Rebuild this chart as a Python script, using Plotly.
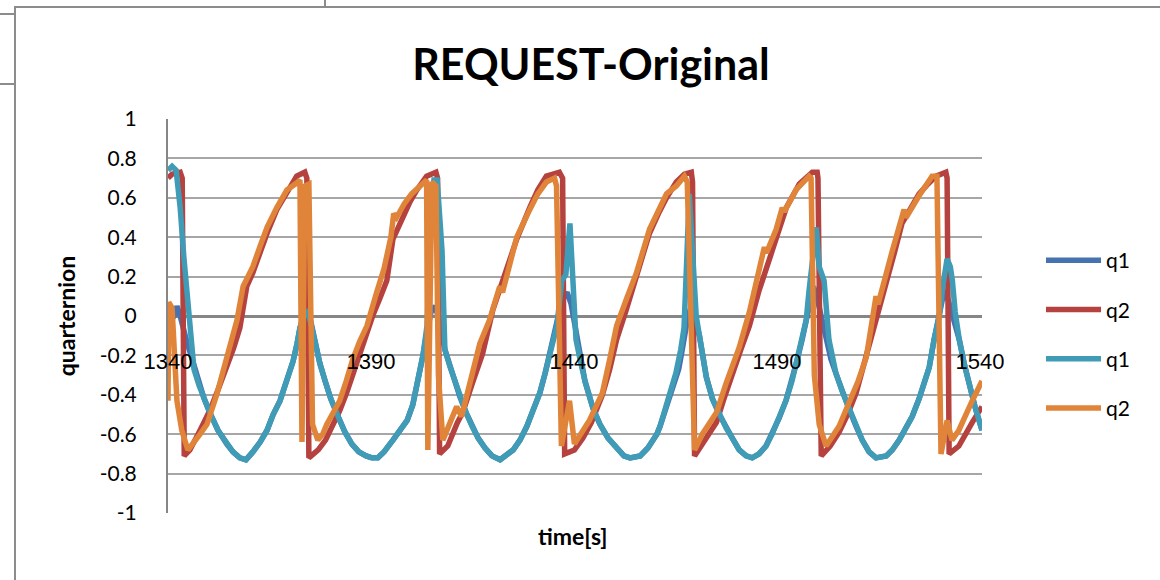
import plotly.graph_objects as go

# ---- data: time [s] and quaternion components ----
# q1 / q2 (original, drawn first) and q1 / q2 (second pair, drawn on top)
t_q1_ref = [1340.0, 1341.5, 1342.2, 1343.0, 1344.5, 1345.7, 1346.4, 1347.6, 1348.9, 1350.3, 1352.3,
            1354.5, 1356.0, 1357.7, 1359.2, 1360.9, 1362.7, 1364.4, 1365.9, 1367.6, 1369.3, 1370.8,
            1371.8, 1372.5, 1373.4, 1374.4, 1375.2, 1376.2, 1377.4, 1378.7, 1380.1, 1381.9, 1383.6,
            1385.3, 1387.0, 1388.8, 1390.2, 1391.7, 1393.2, 1395.4, 1397.1, 1398.9, 1400.3, 1401.6,
            1402.8, 1403.8, 1404.8, 1405.8, 1406.8, 1408.2, 1409.5, 1410.7, 1411.9, 1413.4, 1414.9,
            1416.4, 1418.1, 1419.8, 1421.8, 1423.2, 1425.0, 1426.7, 1428.4, 1429.9, 1431.6, 1432.9,
            1434.1, 1435.1, 1435.8, 1437.0, 1438.3, 1439.3, 1440.2, 1440.7, 1441.5, 1442.7, 1444.7,
            1446.4, 1448.4, 1450.6, 1452.3, 1453.8, 1456.3, 1458.2, 1460.4, 1461.2, 1463.6, 1465.1,
            1465.8, 1466.5, 1467.3, 1468.1, 1468.9, 1469.8, 1470.9, 1472.6, 1474.1, 1475.8, 1477.5,
            1479.0, 1480.7, 1482.4, 1483.9, 1485.6, 1487.3, 1488.8, 1490.5, 1492.2, 1493.7, 1494.9,
            1496.2, 1497.2, 1498.2, 1499.0, 1500.0, 1501.1, 1502.2, 1503.3, 1504.5, 1506.0, 1507.7,
            1509.5, 1511.0, 1512.7, 1514.4, 1516.9, 1518.4, 1520.1, 1521.8, 1523.3, 1525.0, 1526.5,
            1527.5, 1528.7, 1530.0, 1531.2, 1532.2, 1533.2, 1534.2, 1534.9, 1536.2, 1537.4, 1538.9,
            1540.5]
q1_ref = [-0.05, 0.00, 0.05, 0.00, -0.12, -0.20, -0.27, -0.35, -0.42, -0.49, -0.58,
          -0.65, -0.69, -0.72, -0.73, -0.69, -0.64, -0.58, -0.50, -0.43, -0.33, -0.23,
          -0.14, -0.06, 0.00, 0.03, -0.03, -0.14, -0.24, -0.33, -0.42, -0.51, -0.59,
          -0.65, -0.69, -0.71, -0.72, -0.72, -0.69, -0.63, -0.58, -0.53, -0.45, -0.33,
          -0.20, -0.08, 0.02, 0.05, -0.02, -0.17, -0.26, -0.33, -0.41, -0.49, -0.56,
          -0.62, -0.67, -0.71, -0.73, -0.71, -0.68, -0.63, -0.56, -0.48, -0.39, -0.29,
          -0.19, -0.11, -0.03, 0.08, 0.12, 0.06, -0.04, -0.12, -0.22, -0.33, -0.47,
          -0.55, -0.62, -0.67, -0.71, -0.72, -0.71, -0.67, -0.60, -0.56, -0.40, -0.30,
          -0.27, -0.19, -0.10, 0.00, 0.05, -0.03, -0.10, -0.31, -0.42, -0.50, -0.57,
          -0.62, -0.68, -0.71, -0.72, -0.70, -0.66, -0.60, -0.52, -0.43, -0.33, -0.23,
          -0.12, -0.02, 0.10, 0.15, 0.08, -0.03, -0.12, -0.22, -0.29, -0.38, -0.47,
          -0.56, -0.63, -0.69, -0.72, -0.71, -0.68, -0.63, -0.57, -0.51, -0.42, -0.33,
          -0.26, -0.12, 0.00, 0.13, 0.08, 0.00, -0.06, -0.12, -0.25, -0.36, -0.47,
          -0.58]

t_q2_ref = [1340.0, 1341.0, 1343.0, 1343.5, 1344.0, 1345.4, 1347.9, 1350.3, 1352.4, 1354.5, 1356.2,
            1357.7, 1359.4, 1360.9, 1362.6, 1364.4, 1366.8, 1368.4, 1370.0, 1371.7, 1373.7, 1374.2,
            1374.7, 1377.0, 1378.8, 1380.6, 1382.3, 1384.0, 1385.6, 1387.2, 1388.8, 1390.4, 1392.2,
            1393.9, 1395.4, 1397.8, 1399.6, 1401.3, 1403.7, 1406.0, 1406.4, 1406.9, 1408.9, 1411.3,
            1412.6, 1415.0, 1417.5, 1420.0, 1422.4, 1424.2, 1425.9, 1429.1, 1431.1, 1433.2, 1436.4,
            1437.2, 1437.7, 1440.1, 1442.2, 1444.3, 1447.0, 1448.8, 1450.5, 1453.0, 1455.4, 1458.6,
            1460.8, 1462.8, 1465.2, 1467.2, 1468.9, 1469.2, 1469.7, 1472.4, 1475.1, 1477.1, 1479.0,
            1481.1, 1483.2, 1485.6, 1488.8, 1490.6, 1492.3, 1495.5, 1498.7, 1499.9, 1500.1, 1500.9,
            1503.1, 1505.3, 1507.4, 1509.5, 1511.5, 1513.4, 1516.9, 1518.9, 1520.8, 1525.0, 1527.2,
            1529.2, 1531.6, 1531.9, 1532.4, 1534.8, 1538.1, 1540.5]
q2_ref = [0.70, 0.72, 0.73, 0.70, -0.71, -0.68, -0.58, -0.48, -0.37, -0.26, -0.16,
          -0.06, 0.15, 0.22, 0.32, 0.42, 0.54, 0.60, 0.66, 0.71, 0.73, 0.70,
          -0.72, -0.68, -0.63, -0.56, -0.48, -0.39, -0.29, -0.19, -0.10, 0.00, 0.09,
          0.18, 0.39, 0.50, 0.58, 0.64, 0.71, 0.73, 0.70, -0.70, -0.66, -0.54,
          -0.49, -0.34, -0.19, 0.03, 0.17, 0.28, 0.39, 0.55, 0.64, 0.71, 0.73,
          0.70, -0.70, -0.68, -0.62, -0.54, -0.40, -0.27, -0.12, 0.04, 0.20, 0.42,
          0.52, 0.60, 0.68, 0.72, 0.73, 0.68, -0.71, -0.63, -0.54, -0.41, -0.29,
          -0.17, -0.05, 0.13, 0.33, 0.45, 0.55, 0.67, 0.73, 0.73, 0.70, -0.71,
          -0.66, -0.59, -0.50, -0.39, -0.24, -0.09, 0.15, 0.32, 0.47, 0.62, 0.67,
          0.71, 0.73, 0.70, -0.70, -0.66, -0.54, -0.46]

t_q1 = [1340.0, 1341.0, 1342.0, 1343.0, 1343.9, 1344.9, 1345.7, 1346.4, 1347.6, 1348.9, 1350.3,
        1352.3, 1354.5, 1356.0, 1357.7, 1359.2, 1360.9, 1362.7, 1364.4, 1365.9, 1367.6, 1369.3,
        1370.8, 1371.8, 1372.5, 1373.4, 1374.4, 1375.2, 1376.2, 1377.4, 1378.7, 1380.1,
        1381.9, 1383.6, 1385.3, 1387.0, 1388.8, 1390.2, 1391.7, 1393.2, 1395.4, 1397.1, 1398.9,
        1400.3, 1401.6, 1402.8, 1403.8, 1404.2, 1405.0, 1405.5, 1406.3, 1407.5, 1408.2, 1409.5,
        1410.7, 1411.9, 1413.4, 1414.9, 1416.4, 1418.1, 1419.8, 1421.8, 1423.2, 1425.0, 1426.7,
        1428.4, 1429.9, 1431.6, 1432.9, 1434.1, 1435.1, 1435.8, 1437.0, 1438.0, 1439.0, 1439.5,
        1440.0, 1440.5, 1441.5, 1442.7, 1444.7, 1446.4, 1448.4, 1450.6, 1452.3, 1453.8, 1456.3,
        1458.2, 1460.4, 1461.2, 1463.6, 1465.1, 1466.3, 1467.1, 1467.8, 1468.4, 1469.2, 1470.1,
        1470.9, 1472.6, 1474.1, 1475.8, 1477.5, 1479.0, 1480.7, 1482.4, 1483.9, 1485.6, 1487.3,
        1488.8, 1490.5, 1492.2, 1493.7, 1494.9, 1496.2, 1497.2, 1497.9, 1499.7, 1500.4, 1501.6,
        1502.8, 1504.5, 1506.0, 1507.7, 1509.5, 1511.0, 1512.7, 1514.4, 1516.9, 1518.4, 1520.1,
        1521.8, 1523.3, 1525.0, 1526.5, 1527.5, 1528.7, 1530.0, 1530.9, 1531.9, 1532.7, 1533.2,
        1533.9, 1534.9, 1536.2, 1537.4, 1538.9, 1540.5]
q1 = [0.74, 0.76, 0.74, 0.55, 0.30, 0.05, -0.15, -0.27, -0.35, -0.42, -0.49,
      -0.58, -0.65, -0.69, -0.72, -0.73, -0.69, -0.64, -0.58, -0.50, -0.43, -0.33,
      -0.23, -0.14, -0.06, 0.00, 0.02, -0.04, -0.14, -0.24, -0.33, -0.42,
      -0.51, -0.59, -0.65, -0.69, -0.71, -0.72, -0.72, -0.69, -0.63, -0.58, -0.53,
      -0.45, -0.33, -0.20, -0.05, 0.20, 0.60, 0.69, 0.69, 0.33, -0.17, -0.26,
      -0.33, -0.41, -0.49, -0.56, -0.62, -0.67, -0.71, -0.73, -0.71, -0.68, -0.63,
      -0.56, -0.48, -0.39, -0.29, -0.19, -0.11, -0.05, 0.18, 0.21, 0.47, 0.30,
      0.05, -0.12, -0.22, -0.33, -0.47, -0.55, -0.62, -0.67, -0.71, -0.72, -0.71,
      -0.67, -0.60, -0.56, -0.40, -0.29, -0.17, -0.06, 0.30, 0.62, 0.33, 0.00,
      -0.10, -0.31, -0.42, -0.50, -0.57, -0.62, -0.68, -0.71, -0.72, -0.70, -0.66,
      -0.60, -0.52, -0.43, -0.33, -0.23, -0.12, -0.02, 0.13, 0.45, 0.25, 0.18,
      -0.12, -0.29, -0.38, -0.47, -0.56, -0.63, -0.69, -0.72, -0.71, -0.68, -0.63,
      -0.57, -0.51, -0.42, -0.33, -0.26, -0.12, 0.00, 0.16, 0.29, 0.25, 0.18,
      0.02, -0.12, -0.25, -0.36, -0.47, -0.58]

t_q2 = [1340.0, 1340.2, 1341.0, 1342.2, 1343.4, 1344.9, 1347.9, 1349.6, 1352.0, 1354.5, 1357.0,
        1358.5, 1360.9, 1362.6, 1364.4, 1366.8, 1369.3, 1372.0, 1372.5, 1373.0, 1373.7, 1374.7,
        1375.6, 1376.9, 1378.1, 1379.1, 1380.7, 1382.3, 1383.9, 1385.5, 1387.2, 1389.0, 1391.4,
        1393.2, 1394.9, 1395.6, 1396.3, 1398.2, 1400.0, 1402.5, 1403.7, 1404.0, 1405.0, 1406.0,
        1406.6, 1407.7, 1409.9, 1411.1, 1412.3, 1414.5, 1416.8, 1419.2, 1421.7, 1422.4, 1424.2,
        1425.9, 1429.1, 1431.1, 1433.2, 1435.2, 1435.7, 1436.9, 1438.9, 1440.1, 1443.8, 1447.0,
        1448.8, 1450.5, 1453.0, 1455.4, 1458.6, 1460.8, 1462.8, 1465.2, 1467.2, 1467.9, 1469.7,
        1471.6, 1475.1, 1477.5, 1480.7, 1483.2, 1486.9, 1487.4, 1489.8, 1491.3, 1491.8, 1494.7,
        1497.9, 1498.4, 1499.2, 1500.4, 1502.1, 1505.3, 1507.8, 1510.0, 1512.0, 1514.4, 1514.9,
        1516.4, 1518.4, 1521.3, 1521.8, 1525.0, 1528.2, 1529.4, 1530.4, 1531.9, 1533.1, 1534.8,
        1536.6, 1538.1, 1540.5]
q2 = [-0.43, 0.07, 0.04, -0.43, -0.58, -0.68, -0.60, -0.55, -0.40, -0.22, -0.02,
      0.15, 0.25, 0.35, 0.45, 0.55, 0.64, 0.68, 0.69, -0.64, 0.66, 0.67,
      -0.55, -0.63, -0.60, -0.55, -0.49, -0.43, -0.33, -0.22, -0.13, -0.05, 0.12,
      0.24, 0.40, 0.52, 0.50, 0.57, 0.62, 0.67, 0.69, -0.68, 0.68, 0.66,
      -0.30, -0.63, -0.51, -0.46, -0.51, -0.33, -0.14, -0.02, 0.15, 0.12, 0.27,
      0.40, 0.54, 0.62, 0.68, 0.70, 0.66, -0.66, -0.43, -0.65, -0.53, -0.39,
      -0.22, -0.05, 0.09, 0.22, 0.44, 0.54, 0.62, 0.66, 0.71, 0.68, -0.68,
      -0.60, -0.49, -0.34, -0.16, 0.02, 0.35, 0.32, 0.44, 0.55, 0.53, 0.64,
      0.71, 0.70, -0.30, -0.55, -0.66, -0.56, -0.44, -0.33, -0.21, 0.10, 0.06,
      0.18, 0.33, 0.54, 0.50, 0.61, 0.71, 0.71, -0.70, -0.53, -0.63, -0.58,
      -0.49, -0.43, -0.33]

x_ticks = [1340, 1390, 1440, 1490, 1540]
y_ticks = [1, 0.8, 0.6, 0.4, 0.2, 0, -0.2, -0.4, -0.6, -0.8, -1]
y_tick_text = ["1", "0.8", "0.6", "0.4", "0.2", "0", "-0.2", "-0.4", "-0.6", "-0.8", "-1"]

series = [
    ("q1", t_q1_ref, q1_ref, "#4673B0"),
    ("q2", t_q2_ref, q2_ref, "#B5423E"),
    ("q1", t_q1, q1, "#3F9BB6"),
    ("q2", t_q2, q2, "#E0843A"),
]

FONT = "Lato, 'Open Sans', sans-serif"
GRID = "#A6A6A6"
AXIS = "#868686"

fig = go.Figure()
for i, (name, t, v, color) in enumerate(series):
    fig.add_trace(go.Scatter(
        x=t, y=v, name=name, mode="lines", legendgroup=f"g{i}",
        line=dict(color=color, width=5.5, shape="linear"),
    ))

# page geometry (pixels) -> paper coordinates
W, H = 1160, 580
L, R, T, B = 168, 982, 119, 513
def px(x):
    return (x - L) / (R - L)
def py(y):
    return (B - y) / (B - T)

fig.update_layout(
    width=W, height=H,
    margin=dict(l=L, r=W - R, t=T, b=H - B, pad=0),
    paper_bgcolor="white", plot_bgcolor="white",
    font=dict(family=FONT, color="#000000", size=18),
    title=dict(text="<b>REQUEST-Original</b>", x=px(591), xanchor="center", xref="paper",
               y=1 - 65 / H, yanchor="middle", font=dict(size=43, family=FONT)),
    showlegend=True,
    legend=dict(x=px(1041), xanchor="left", y=py(240), yanchor="top",
                font=dict(size=21, family=FONT), traceorder="grouped",
                tracegroupgap=19, itemwidth=55, bgcolor="rgba(0,0,0,0)"),
    xaxis=dict(
        range=[1340, 1540.5], tickvals=x_ticks, ticktext=[str(v) for v in x_ticks],
        anchor="free", position=py(346), showline=False, showgrid=False, zeroline=False,
        ticks="", tickfont=dict(family="'Liberation Sans', Arial, sans-serif", size=22),
    ),
    yaxis=dict(
        range=[-1, 1], tickvals=y_ticks, ticktext=y_tick_text,
        showgrid=True, gridcolor=GRID, gridwidth=2,
        zeroline=True, zerolinecolor=AXIS, zerolinewidth=2.5,
        showline=True, linecolor=AXIS, linewidth=2, mirror=False,
        ticks="", ticklabelstandoff=25, tickfont=dict(size=21, family=FONT),
        title=dict(text="<b>quarternion</b>", font=dict(size=23, family=FONT), standoff=18),
    ),
    annotations=[dict(text="<b>time[s]</b>", x=px(573), xref="paper", y=py(536), yref="paper",
                      xanchor="center", yanchor="middle", showarrow=False,
                      font=dict(size=23, family=FONT))],
    shapes=[
        # chart frame
        dict(type="rect", xref="paper", yref="paper", x0=px(15), y0=py(600), x1=px(1180), y1=py(7),
             line=dict(color="#8C8C8C", width=2), layer="below"),
        # neighbouring sheet cell borders
        dict(type="line", xref="paper", yref="paper", x0=px(0), x1=px(15), y0=py(14), y1=py(14),
             line=dict(color="#8C8C8C", width=2)),
        dict(type="line", xref="paper", yref="paper", x0=px(0), x1=px(15), y0=py(84), y1=py(84),
             line=dict(color="#8C8C8C", width=2)),
        dict(type="line", xref="paper", yref="paper", x0=px(325), x1=px(325), y0=py(0), y1=py(7),
             line=dict(color="#8C8C8C", width=2)),
    ],
)

fig.write_html("out.html")
